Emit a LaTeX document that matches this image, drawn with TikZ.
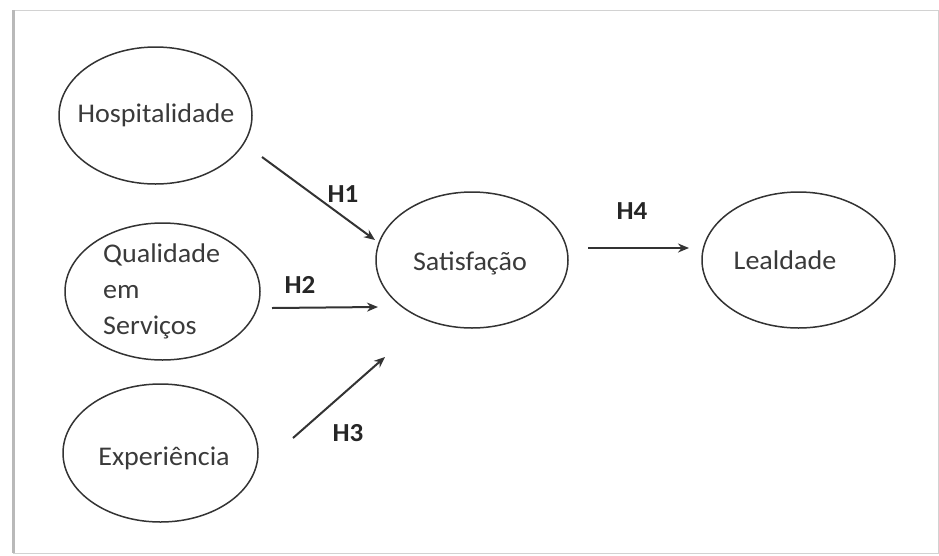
\documentclass[tikz,border=0pt]{standalone}
\usepackage{fontspec}
\setmainfont{Carlito}[FakeStretch=1.04]
\usetikzlibrary{shapes.geometric,arrows.meta}
\definecolor{lineg}{HTML}{333333}
\definecolor{txtg}{HTML}{3A3A3A}
\tikzset{
  var/.style={draw=lineg, line width=1.5pt, ellipse, inner sep=0pt},
  lab/.style={text=txtg, font=\fontsize{27}{36}\selectfont, inner sep=0pt},
  hyp/.style={text=black!85, font=\fontsize{26}{32}\selectfont\bfseries, inner sep=0pt},
  link/.style={draw=lineg, line width=2pt, -{Stealth[length=11pt,width=9pt]}}
}
\begin{document}
\begin{tikzpicture}[x=1pt,y=-1pt]
\useasboundingbox (0,0) rectangle (939,555);
% frame
\draw[gray!35, line width=1pt] (13,10) rectangle (938,553);
\draw[gray!55, line width=3pt] (13.5,10) -- (13.5,553);
% ellipses
\node[var, minimum width=193pt, minimum height=137pt] (hosp) at (155.5,115.5) {};
\node[var, minimum width=195pt, minimum height=137pt] (qual) at (162.5,291.5) {};
\node[var, minimum width=195pt, minimum height=138pt] (exp) at (160.5,453) {};
\node[var, minimum width=192pt, minimum height=136pt] (sat) at (472,260) {};
\node[var, minimum width=193pt, minimum height=136pt] (leal) at (798.5,260) {};
% texts
\node[lab] (thosp) at (156,115) {Hospitalidade};
\node[lab, align=left, anchor=west] (tqual) at (103,291) {Qualidade\\em\\Serviços};
\node[lab] (texp) at (164,458) {Experiência};
\node[lab] (tsat) at (470,263) {Satisfação};
\node[lab] (tleal) at (785,260) {Lealdade};
% arrow end points
\coordinate (a1s) at (262,157);
\coordinate (a1e) at (375,240);
\coordinate (a2s) at (272,308);
\coordinate (a2e) at (378,307);
\coordinate (a3s) at (293,438);
\coordinate (a3e) at (385,357);
\coordinate (a4s) at (588,248);
\coordinate (a4e) at (689,248);
\draw[link] (a1s) -- (a1e);
\draw[link] (a2s) -- (a2e);
\draw[link] (a3s) -- (a3e);
\draw[link] (a4s) -- (a4e);
% hypothesis labels
\node[hyp] (h1) at (343,194) {H1};
\node[hyp] (h2) at (300,285) {H2};
\node[hyp] (h3) at (348,433) {H3};
\node[hyp] (h4) at (632,211) {H4};
\end{tikzpicture}
\end{document}
